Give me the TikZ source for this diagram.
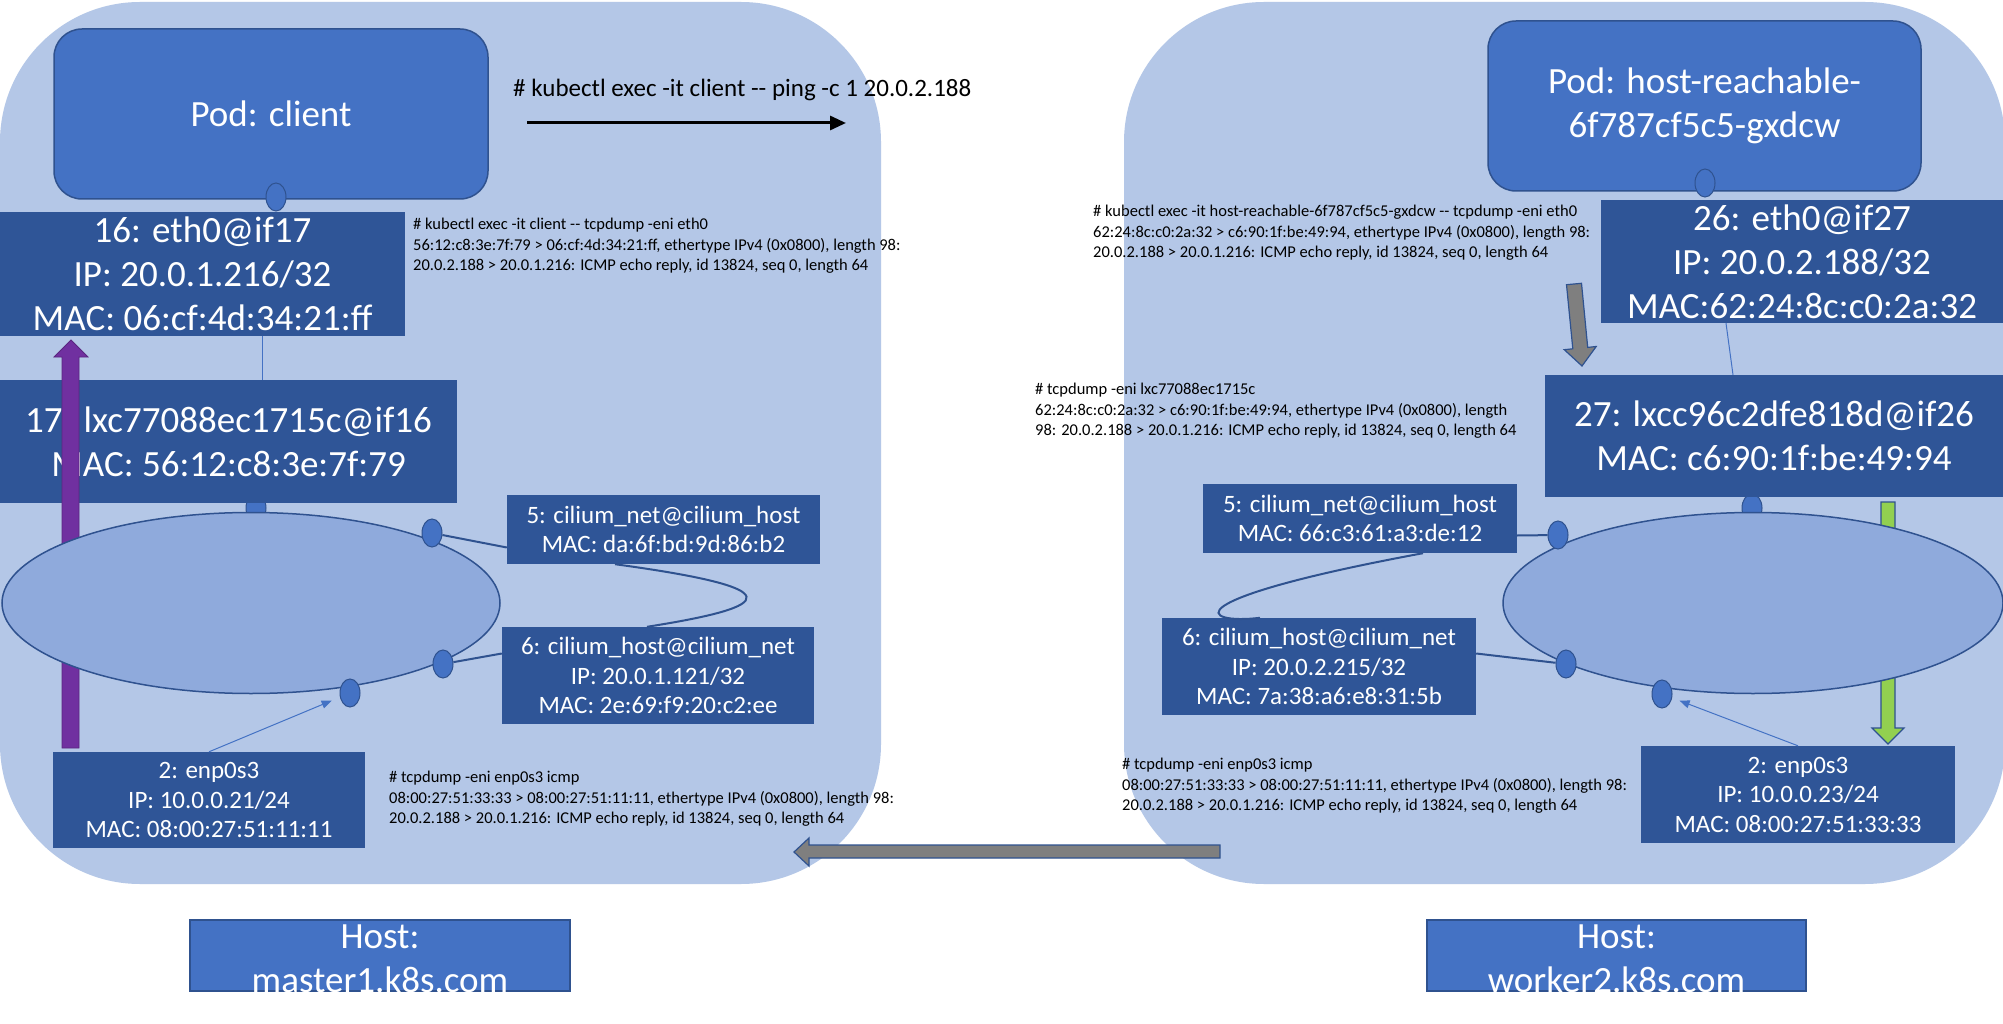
\documentclass[tikz,border=0pt]{standalone}
\usepackage{fontspec}
\setmainfont{Carlito}
\usetikzlibrary{shapes.geometric,arrows.meta}
\definecolor{regionc}{HTML}{B4C7E7}
\definecolor{podc}{HTML}{4472C4}
\definecolor{bordc}{HTML}{2F528F}
\definecolor{ifc}{HTML}{2F5597}
\definecolor{ellc}{HTML}{8FAADC}
\definecolor{purp}{HTML}{7030A0}
\definecolor{grn}{HTML}{92D050}
\definecolor{gry}{HTML}{7F7F7F}
\newcommand\fbig{\fontsize{37}{44}\selectfont}
\newcommand\fmed{\fontsize{25}{29.5}\selectfont}
\newcommand\fsml{\fontsize{16.5}{20.5}\selectfont}
\newcommand\fcmd{\fontsize{25}{30}\selectfont}
\begin{document}
\begin{tikzpicture}[x=1pt,y=-1pt,
  region/.style={fill=regionc, rounded corners=140pt},
  podbox/.style={draw=bordc, line width=1.5pt, fill=podc, rounded corners=28pt, text=white, font=\fbig, align=center, inner sep=0},
  ifbig/.style={fill=ifc, text=white, align=center, font=\fbig, inner sep=0},
  ifsmall/.style={fill=ifc, text=white, align=center, font=\fmed, inner sep=0},
  port/.style={ellipse, fill=podc, draw=bordc, line width=1pt, minimum width=20pt, minimum height=28pt, inner sep=0},
  bridge/.style={ellipse, fill=ellc, draw=bordc, line width=1.5pt, inner sep=0},
  dump/.style={font=\fsml, align=left, anchor=north west, inner sep=0},
  hostbox/.style={fill=podc, draw=bordc, line width=1.5pt, inner sep=0},
  hosttext/.style={text=white, font=\fbig, align=center, inner sep=0},
  thinl/.style={draw=podc, line width=1pt},
  thinar/.style={draw=podc, line width=1pt, -{Triangle[length=10pt,width=8pt]}},
  conn/.style={draw=bordc, line width=2pt},
  blockar/.style={draw=bordc, line width=1.2pt}
]
\useasboundingbox (0,0) rectangle (2003,1024);
\fill[white] (0,0) rectangle (2003,1024);
% host regions
\fill[region] (0,2) rectangle (881,884);
\fill[region] (1124,2) rectangle (2005,884);

% pods
\node[podbox, minimum width=434pt, minimum height=170pt] (podL) at (271,114) {Pod: client};
\node[podbox, minimum width=433pt, minimum height=170pt] (podR) at (1704.5,106) {Pod: host-reachable-\\6f787cf5c5-gxdcw};
\node[port] (ppL) at (276,197) {};
\node[port] (ppR) at (1705,183) {};

% top ports on bridges (behind lxc boxes)
\node[port] (pLtop) at (256,508) {};
\node[port] (pRtop) at (1752,508) {};

% eth0 and lxc boxes
\node[ifbig, minimum width=405pt, minimum height=124pt] (eth0L) at (202.5,274) {16: eth0@if17\\IP: 20.0.1.216/32\\MAC: 06:cf:4d:34:21:ff};
\node[ifbig, minimum width=457pt, minimum height=123pt] (lxcL) at (228.5,441.5) {17: lxc77088ec1715c@if16\\MAC: 56:12:c8:3e:7f:79};
\node[ifbig, minimum width=402pt, minimum height=123pt] (eth0R) at (1802,261.5) {26: eth0@if27\\IP: 20.0.2.188/32\\MAC:62:24:8c:c0:2a:32};
\node[ifbig, minimum width=458pt, minimum height=122pt] (lxcR) at (1774,436) {27: lxcc96c2dfe818d@if26\\MAC: c6:90:1f:be:49:94};
\draw[thinl] ([xshift=59.5pt]eth0L.south) -- ([xshift=33.5pt]lxcL.north);
\draw[thinl] ([xshift=-76pt]eth0R.south) -- ([xshift=-41pt]lxcR.north);

% block arrows
\filldraw[fill=purp, draw=purp!80!black, line width=0.8pt] (62,748) -- (62,357) -- (54,357) -- (71,340) -- (88,357) -- (79,357) -- (79,748) -- cycle;
\filldraw[fill=grn, blockar] (1881,502) -- (1895,502) -- (1895,728) -- (1904,728) -- (1888,744) -- (1872,728) -- (1881,728) -- cycle;
\filldraw[fill=gry, blockar] (1566.5,284.7) -- (1581.5,283.3) -- (1587.7,347.4) -- (1596.2,346.5) -- (1582,366) -- (1564.3,349.7) -- (1572.8,348.8) -- cycle;

% bridges
\node[bridge, minimum width=498pt, minimum height=181pt] (brL) at (251,603) {};
\node[bridge, minimum width=500pt, minimum height=181pt] (brR) at (1753,603) {};

% ports on bridges
\node[port] (pLnet) at (432,533) {};
\node[port] (pLhost) at (443,664) {};
\node[port] (pLenp) at (350,693) {};
\node[port] (pRnet) at (1558,535) {};
\node[port] (pRhost) at (1566,664) {};
\node[port] (pRenp) at (1662,694) {};

% small interface boxes
\node[ifsmall, minimum width=313pt, minimum height=69pt] (netL) at (663.5,529.5) {5: cilium\_net@cilium\_host\\MAC: da:6f:bd:9d:86:b2};
\node[ifsmall, minimum width=312pt, minimum height=97pt] (cilhL) at (658,675.5) {6: cilium\_host@cilium\_net\\IP: 20.0.1.121/32\\MAC: 2e:69:f9:20:c2:ee};
\node[ifsmall, minimum width=312pt, minimum height=96pt] (enpL) at (209,800) {2: enp0s3\\IP: 10.0.0.21/24\\MAC: 08:00:27:51:11:11};
\node[ifsmall, minimum width=314pt, minimum height=69pt] (netR) at (1360,518.5) {5: cilium\_net@cilium\_host\\MAC: 66:c3:61:a3:de:12};
\node[ifsmall, minimum width=314pt, minimum height=97pt] (cilhR) at (1319,666.5) {6: cilium\_host@cilium\_net\\IP: 20.0.2.215/32\\MAC: 7a:38:a6:e8:31:5b};
\node[ifsmall, minimum width=314pt, minimum height=97pt] (enpR) at (1798,794.5) {2: enp0s3\\IP: 10.0.0.23/24\\MAC: 08:00:27:51:33:33};

% connections
\draw[conn] (pLnet) -- ([yshift=-18pt]netL.west);
\draw[conn] (pLhost) -- ([yshift=22pt]cilhL.west);
\draw[conn] (pRnet) -- ([yshift=-17pt]netR.east);
\draw[conn] (pRhost) -- ([yshift=13pt]cilhR.east);
\draw[conn] ([xshift=-48.5pt]netL.south) .. controls (790,588) and (780,606) .. ([xshift=-11pt]cilhL.north);
\draw[conn] ([xshift=63pt]netR.south) .. controls (1170,600) and (1200,625) .. ([xshift=-59pt]cilhR.north);
\draw[thinar, shorten >=9pt] (enpL.north) -- (pLenp);
\draw[thinar, shorten >=8pt] (enpR.north) -- (pRenp);

% command and dumps
\node[anchor=west, font=\fcmd, inner sep=0] (cmd) at (513,90) {\# kubectl exec -it client -{}- ping -c 1 20.0.2.188};
\coordinate (cmdA) at (527,123);
\coordinate (cmdB) at (846,123);
\draw[line width=3pt, -{Triangle[length=16pt,width=14pt]}] (cmdA) -- (cmdB);

\node[dump] (dumpL1) at (413,218) {\# kubectl exec -it client -{}- tcpdump -eni eth0\\56:12:c8:3e:7f:79 > 06:cf:4d:34:21:ff, ethertype IPv4 (0x0800), length 98:\\20.0.2.188 > 20.0.1.216: ICMP echo reply, id 13824, seq 0, length 64};
\node[dump] (dumpL2) at (389,771) {\# tcpdump -eni enp0s3 icmp\\08:00:27:51:33:33 > 08:00:27:51:11:11, ethertype IPv4 (0x0800), length 98:\\20.0.2.188 > 20.0.1.216: ICMP echo reply, id 13824, seq 0, length 64};
\node[dump] (dumpR1) at (1093,205) {\# kubectl exec -it host-reachable-6f787cf5c5-gxdcw -{}- tcpdump -eni eth0\\62:24:8c:c0:2a:32 > c6:90:1f:be:49:94, ethertype IPv4 (0x0800), length 98:\\20.0.2.188 > 20.0.1.216: ICMP echo reply, id 13824, seq 0, length 64};
\node[dump] (dumpR2) at (1035,383) {\# tcpdump -eni lxc77088ec1715c\\62:24:8c:c0:2a:32 > c6:90:1f:be:49:94, ethertype IPv4 (0x0800), length\\98: 20.0.2.188 > 20.0.1.216: ICMP echo reply, id 13824, seq 0, length 64};
\node[dump] (dumpR3) at (1122,758) {\# tcpdump -eni enp0s3 icmp\\08:00:27:51:33:33 > 08:00:27:51:11:11, ethertype IPv4 (0x0800), length 98:\\20.0.2.188 > 20.0.1.216: ICMP echo reply, id 13824, seq 0, length 64};

% bottom gray arrow
\filldraw[fill=gry, blockar] (1220,845) -- (809,845) -- (809,838) -- (794,852) -- (809,866) -- (809,858) -- (1220,858) -- cycle;

% host labels
\node[hostbox, minimum width=380pt, minimum height=71pt] (hostL) at (380,955.5) {};
\node[hostbox, minimum width=379pt, minimum height=71pt] (hostR) at (1616.5,955.5) {};
\begin{scope}
\clip (hostL.south west) rectangle (hostL.north east);
\node[hosttext] (hostLt) at (380,959) {Host:\\master1.k8s.com};
\end{scope}
\begin{scope}
\clip (hostR.south west) rectangle (hostR.north east);
\node[hosttext] (hostRt) at (1616.5,959) {Host:\\worker2.k8s.com};
\end{scope}
\end{tikzpicture}
\end{document}
